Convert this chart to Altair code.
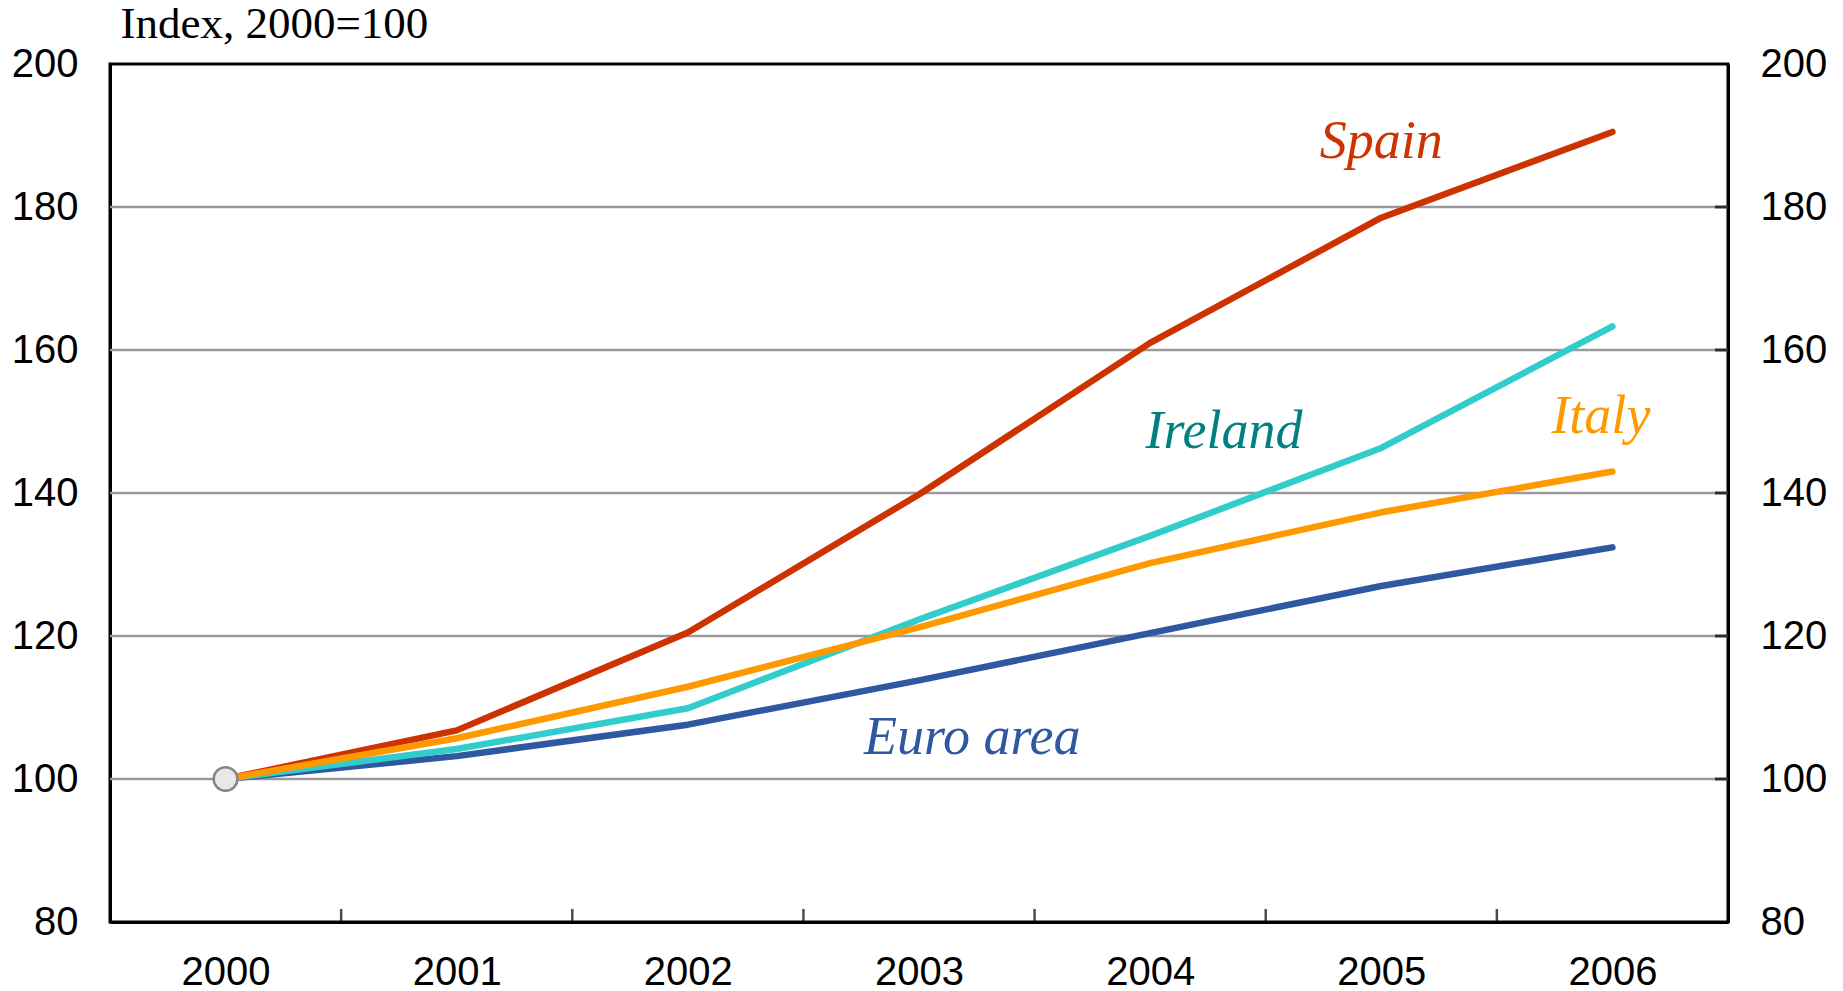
import altair as alt
import pandas as pd

# ---- data ----
years = [2000, 2001, 2002, 2003, 2004, 2005, 2006]
euro_area = [100, 103.2, 107.6, 113.8, 120.4, 127.0, 132.4]
spain = [100, 106.8, 120.5, 139.8, 161.0, 178.5, 190.5]
ireland = [100, 104.2, 109.9, 122.3, 134.0, 146.3, 163.3]
italy = [100, 105.7, 112.9, 121.2, 130.2, 137.3, 143.0]

series_names = ["Euro area", "Spain", "Ireland", "Italy"]
series_colors = ["#2E58A0", "#CC3300", "#33CCCC", "#FF9900"]

label_text = ["Spain", "Ireland", "Italy", "Euro area"]
label_year = [2005.0, 2004.32, 2005.95, 2003.23]
label_value = [186.9, 146.3, 148.4, 103.5]
label_colors = ["#CC3300", "#008080", "#FF9900", "#2E58A0"]

y_tick_values = [80, 100, 120, 140, 160, 180, 200]
grid_values = [100, 120, 140, 160, 180]
x_tick_marks = [2000.5, 2001.5, 2002.5, 2003.5, 2004.5, 2005.5]

# ---- tables ----
rows = []
for name, vals in zip(series_names, [euro_area, spain, ireland, italy]):
    for yr, v in zip(years, vals):
        rows.append({"year": yr, "value": v, "series": name})
df = pd.DataFrame(rows)
start_df = pd.DataFrame({"year": [years[0]], "value": [100]})
labels_df = pd.DataFrame({"text": label_text, "year": label_year, "value": label_value, "color": label_colors})
grid_df = pd.DataFrame({"value": grid_values})
xticks_df = pd.DataFrame({"year": x_tick_marks, "value": [y_tick_values[0]] * len(x_tick_marks)})
yticks_df = pd.DataFrame({"year": [2006.5] * len(grid_values), "value": grid_values})

xs = alt.Scale(domain=[1999.5, 2006.5], nice=False, zero=False)
ys = alt.Scale(domain=[80, 200], nice=False, zero=False)

FONT = "Liberation Sans"
x_axis = alt.Axis(values=years, format="d", title=None, grid=False, ticks=False,
                  labelFont=FONT, labelFontSize=40, labelColor="black", labelPadding=30,
                  domainColor="black", domainWidth=3)


def y_axis(orient, **kw):
    return alt.Axis(orient=orient, values=y_tick_values, grid=False, ticks=False,
                    labelFont=FONT, labelFontSize=40, labelColor="black", labelPadding=32,
                    domainColor="black", domainWidth=3, **kw)


X = alt.X("year:Q", scale=xs, axis=x_axis)

grid = alt.Chart(grid_df).mark_rule(color="#9A9A9A", strokeWidth=2.5).encode(
    y=alt.Y("value:Q", scale=ys, axis=y_axis("right", title=None))
)

lines = alt.Chart(df).mark_line(strokeWidth=6.5, strokeCap="round", strokeJoin="round").encode(
    x=X,
    y=alt.Y("value:Q", scale=ys,
            axis=y_axis("left", title="Index, 2000=100", titleFont="Liberation Serif",
                        titleFontSize=45, titleFontWeight="normal", titleColor="black",
                        titleAngle=0, titleAlign="left", titleBaseline="alphabetic",
                        titleX=10, titleY=-27)),
    color=alt.Color("series:N", scale=alt.Scale(domain=series_names, range=series_colors), legend=None),
    detail="series:N",
)

start_pt = alt.Chart(start_df).mark_point(shape="circle", filled=True, size=560, fill="#E8E8E8",
                                          stroke="#858585", strokeWidth=2.5, opacity=1).encode(
    x=X, y=alt.Y("value:Q", scale=ys, axis=None)
)

labels = alt.Chart(labels_df).mark_text(font="Liberation Serif", fontStyle="italic", fontSize=54,
                                        align="center", baseline="alphabetic").encode(
    x=X, y=alt.Y("value:Q", scale=ys, axis=None),
    text="text:N", color=alt.Color("color:N", scale=None),
)

xticks = alt.Chart(xticks_df).mark_tick(orient="vertical", size=13, thickness=2.5, color="black",
                                        yOffset=-6.5).encode(
    x=X, y=alt.Y("value:Q", scale=ys, axis=None)
)

yticks = alt.Chart(yticks_df).mark_tick(orient="horizontal", size=13, thickness=3, color="black",
                                        xOffset=-6.5).encode(
    x=X, y=alt.Y("value:Q", scale=ys, axis=None)
)

chart = alt.layer(grid, lines, start_pt, labels, xticks, yticks).resolve_scale(
    y="independent"
).properties(
    width=1618, height=858,
    autosize=alt.AutoSizeParams(type="none"),
    padding={"left": 102, "top": 56, "right": 100, "bottom": 75},
).configure_view(stroke="black", strokeWidth=3)

chart.save("out.html", embed_options={"renderer": "svg", "actions": False})
